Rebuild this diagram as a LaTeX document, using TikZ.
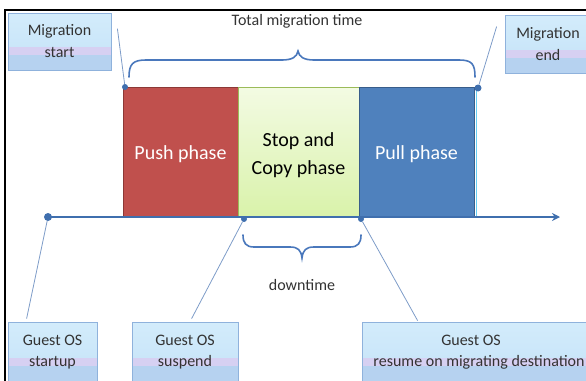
\documentclass[tikz,border=0pt]{standalone}
\usepackage{fontspec}
\setmainfont{Carlito}
\usetikzlibrary{calc,arrows.meta}
\definecolor{txt}{HTML}{333333}
\definecolor{boxtop}{HTML}{D3ECFB}
\definecolor{boxmid}{HTML}{C4E2F8}
\definecolor{boxband}{HTML}{D6D0F2}
\definecolor{boxbot}{HTML}{B6D2F0}
\definecolor{boxborder}{HTML}{8FB2DC}
\definecolor{pushred}{HTML}{C0504D}
\definecolor{pushborder}{HTML}{8C3836}
\definecolor{stoptop}{HTML}{F3FBE3}
\definecolor{stopbot}{HTML}{D9F2AA}
\definecolor{stopborder}{HTML}{9BBB59}
\definecolor{pullblue}{HTML}{4F81BD}
\definecolor{pullborder}{HTML}{385D8A}
\definecolor{axis}{HTML}{3F6FAE}
\definecolor{conn}{HTML}{7E9CC8}
\definecolor{brace}{HTML}{4A78BC}
\tikzset{
  lbl/.style={draw=boxborder, line width=0.8pt, inner sep=0pt, text=txt,
    align=center, font=\fontsize{16}{22}\selectfont,
    path picture={
      \shade[top color=boxtop, bottom color=boxmid]
        (path picture bounding box.south west) rectangle (path picture bounding box.north east);
      \fill[boxband] ($(path picture bounding box.north west)!0.60!(path picture bounding box.south west)$)
        rectangle ($(path picture bounding box.north east)!0.74!(path picture bounding box.south east)$);
      \fill[boxbot] ($(path picture bounding box.north west)!0.74!(path picture bounding box.south west)$)
        rectangle (path picture bounding box.south east);
    }},
  phase/.style={minimum width=#1, minimum height=130pt, inner sep=0pt, line width=1pt},
  phasetext/.style={inner sep=0pt, align=center, font=\fontsize{20}{28}\selectfont},
  dot/.style={circle, fill=axis, inner sep=0pt, minimum size=#1},
  connector/.style={draw=conn, line width=0.8pt},
  bracepath/.style={draw=brace, line width=1.6pt, line cap=round},
}
\begin{document}
\begin{tikzpicture}[x=1pt,y=-1pt]
\useasboundingbox (0,0) rectangle (586,380);
% frame
\draw[line width=2pt, black] (586,10) -- (5,10) -- (5,381);

% phases
\node[phase=115pt, fill=pushred, draw=pushborder] (push) at (180.5,152) {};
\node[phase=121pt, top color=stoptop, bottom color=stopbot, draw=stopborder] (stop) at (298.5,152) {};
\node[phase=115pt, fill=pullblue, draw=pullborder] (pull) at (416.5,152) {};
\draw[draw=cyan!60!white, line width=1.2pt] ($(pull.north east)+(1.8,1)$) -- ($(pull.south east)+(1.8,0)$);
\node[phasetext, text=white] (pusht) at ($(push)+(0,2)$) {Push phase};
\node[phasetext, text=black] (stopt) at ($(stop)+(0,3)$) {Stop and\\Copy phase};
\node[phasetext, text=white] (pullt) at ($(pull)+(0,2)$) {Pull phase};

% timeline
\node[dot=8pt] (t0) at (48,217) {};
\coordinate (tend) at (560,217);
\draw[axis, line width=2pt, -{Stealth[length=8pt,width=8pt]}] (t0.center) -- (tend);

% event dots
\node[dot=6pt] (ms) at (125,87) {};
\node[dot=7pt] (me) at (478,88) {};
\node[dot=6pt] (su) at (244,219) {};
\node[dot=6pt] (re) at (361,219) {};

% label boxes
\node[lbl, minimum width=103pt, minimum height=57pt] (lstart) at (59.5,41.5) {Migration\\start};
\node[lbl, minimum width=86pt, minimum height=58pt] (lend) at (548,44) {Migration\\end};
\node[lbl, minimum width=89pt, minimum height=60pt, font=\fontsize{16}{21}\selectfont] (lboot) at (52.5,352) {Guest OS\\startup};
\node[lbl, minimum width=106pt, minimum height=60pt, font=\fontsize{16}{21}\selectfont] (lsusp) at (185,352) {Guest OS\\suspend};
\node[lbl, minimum width=234pt, minimum height=60pt, font=\fontsize{16}{21}\selectfont] (lres) at (479,352) {Guest OS\hspace*{16pt}\\resume on migrating destination};

% connectors
\draw[connector] (ms) -- ($(lstart.north east)+(6,16)$);
\draw[connector] (me) -- ($(lend.north west)+(-8,12)$);
\draw[connector] (t0) -- ($(lboot.north west)+(19,-3)$);
\draw[connector] (su) -- ($(lsusp.north west)+(60,-3)$);
\draw[connector] (re) -- ($(lres.north west)+(56,-1)$);

% total migration time brace
\node[text=txt, font=\fontsize{16}{20}\selectfont] (total) at (297,21) {Total migration time};
\draw[bracepath] (129,77) .. controls (129,64) and (133,60) .. (146,60) -- (282,60)
  .. controls (292,60) and (297,57) .. (298,51)
  .. controls (299,57) and (304,60) .. (314,60) -- (459,60)
  .. controls (472,60) and (475,64) .. (475,77);

% downtime brace
\draw[bracepath] (243,235) .. controls (243,243) and (246,247) .. (254,247) -- (290,247)
  .. controls (298,247) and (301,250) .. (302,258)
  .. controls (303,250) and (306,247) .. (314,247) -- (350,247)
  .. controls (358,247) and (361,243) .. (361,235);
\node[text=txt, font=\fontsize{16}{20}\selectfont] (down) at (302,285) {downtime};
\end{tikzpicture}
\end{document}
